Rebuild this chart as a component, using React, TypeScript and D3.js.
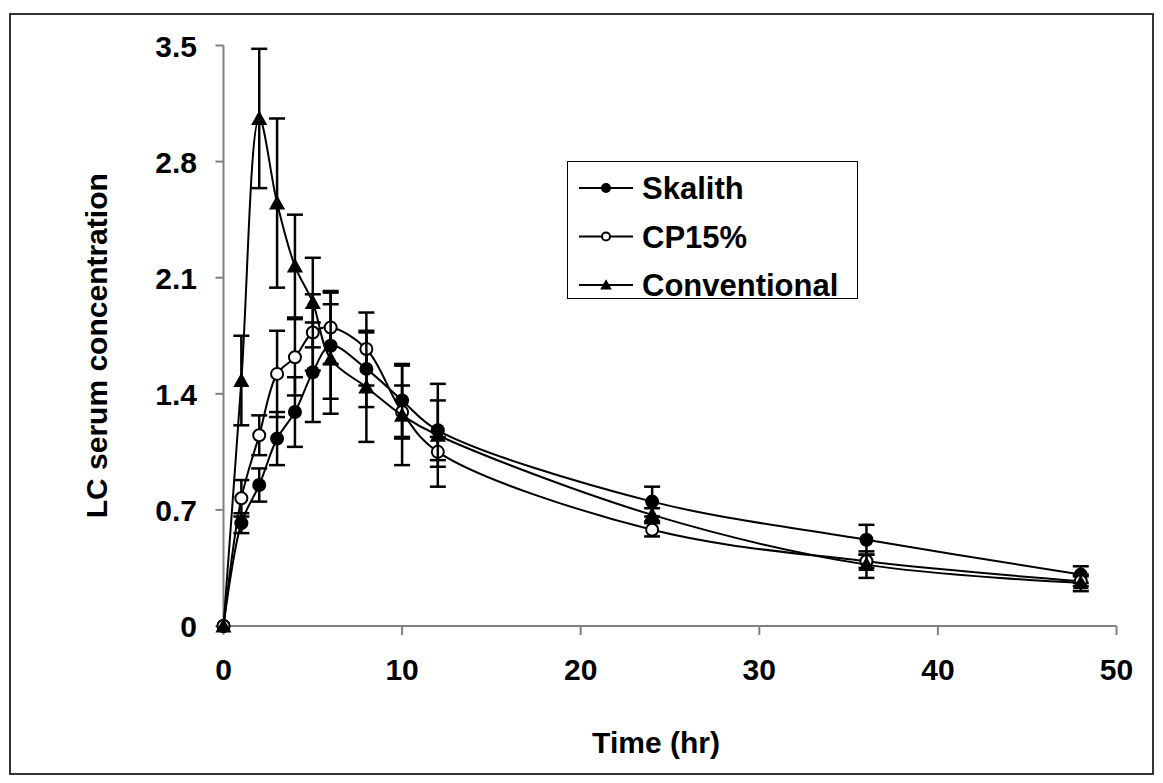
import React from 'react';
import * as d3 from 'd3';

const times = [0, 1, 2, 3, 4, 5, 6, 8, 10, 12, 24, 36, 48];
const skalith = [0, 0.62, 0.85, 1.13, 1.29, 1.53, 1.69, 1.55, 1.36, 1.18, 0.75, 0.52, 0.31];
const skalithErr = [0, 0.06, 0.1, 0.16, 0.21, 0.3, 0.32, 0.23, 0.22, 0.18, 0.09, 0.09, 0.05];
const cp15 = [0, 0.77, 1.15, 1.52, 1.62, 1.77, 1.8, 1.67, 1.29, 1.05, 0.58, 0.39, 0.27];
const cp15Err = [0, 0.11, 0.12, 0.26, 0.23, 0.23, 0.22, 0.22, 0.16, 0.09, 0.04, 0.04, 0.03];
const conventional = [0, 1.48, 3.06, 2.55, 2.17, 1.95, 1.61, 1.44, 1.27, 1.15, 0.67, 0.37, 0.26];
const conventionalErr = [0, 0.27, 0.42, 0.51, 0.31, 0.27, 0.33, 0.33, 0.3, 0.31, 0.04, 0.08, 0.05];

const xTicks = [0, 10, 20, 30, 40, 50];
const yTicks = [0, 0.7, 1.4, 2.1, 2.8, 3.5];
const seriesNames = ['Skalith', 'CP15%', 'Conventional'];

const width = 1163;
const height = 783;
const font = 'Arial, "Liberation Sans", sans-serif';
const axisColor = '#808080';

const x = d3.scaleLinear().domain([0, 50]).range([223.5, 1116.5]);
const y = d3.scaleLinear().domain([0, 3.5]).range([626, 45.5]);

const series = [
  { name: seriesNames[0], values: skalith, err: skalithErr, marker: 'filled' },
  { name: seriesNames[1], values: cp15, err: cp15Err, marker: 'open' },
  { name: seriesNames[2], values: conventional, err: conventionalErr, marker: 'triangle' },
];

const line = d3.line<number>()
  .x((d, i) => x(times[i]))
  .y((d) => y(d))
  .curve(d3.curveCatmullRom.alpha(0.5));

function Marker({ type, cx, cy, size }: { type: string; cx: number; cy: number; size: number }) {
  if (type === 'triangle') {
    const s = size * 1.15;
    const path = `M${cx},${cy - s} L${cx + s},${cy + s * 0.8} L${cx - s},${cy + s * 0.8} Z`;
    return <path d={path} fill="#000" />;
  }
  if (type === 'open') {
    return <circle cx={cx} cy={cy} r={size - 1} fill="#fff" stroke="#000" strokeWidth={2} />;
  }
  return <circle cx={cx} cy={cy} r={size} fill="#000" />;
}

export default function App() {
  const cap = 8;
  return (
    <svg width={width} height={height} style={{ position: 'absolute', left: 0, top: 0, background: '#fff' }}>
      <rect x={10} y={14} width={1143} height={760} fill="#fff" stroke="#333" strokeWidth={2} />

      {/* axes */}
      <line x1={x(0)} x2={x(50)} y1={y(0)} y2={y(0)} stroke={axisColor} strokeWidth={2} />
      <line x1={x(0)} x2={x(0)} y1={y(0)} y2={y(3.5)} stroke={axisColor} strokeWidth={2} />
      {xTicks.map((t) => (
        <g key={'xt' + t}>
          <line x1={x(t)} x2={x(t)} y1={y(0)} y2={y(0) + 9} stroke={axisColor} strokeWidth={2} />
          <text x={x(t)} y={y(0) + 54} textAnchor="middle" fontFamily={font} fontWeight="bold" fontSize={30} fill="#000">
            {t}
          </text>
        </g>
      ))}
      {yTicks.map((t) => (
        <g key={'yt' + t}>
          <line x1={x(0) - 8} x2={x(0)} y1={y(t)} y2={y(t)} stroke={axisColor} strokeWidth={2} />
          <text x={197} y={y(t) + 11} textAnchor="end" fontFamily={font} fontWeight="bold" fontSize={30} fill="#000">
            {t}
          </text>
        </g>
      ))}
      <text x={656} y={753} textAnchor="middle" fontFamily={font} fontWeight="bold" fontSize={30} fill="#000">
        Time (hr)
      </text>
      <text
        transform={`translate(107,${(y(0) + y(3.5)) / 2 + 10}) rotate(-90)`}
        textAnchor="middle"
        fontFamily={font}
        fontWeight="bold"
        fontSize={30}
        fill="#000"
      >
        LC serum concentration
      </text>

      {/* series */}
      {series.map((s) => (
        <g key={s.name}>
          {s.values.map((v, i) =>
            s.err[i] > 0 ? (
              <g key={i} stroke="#000" strokeWidth={2.5}>
                <line x1={x(times[i])} x2={x(times[i])} y1={y(v - s.err[i])} y2={y(v + s.err[i])} />
                <line x1={x(times[i]) - cap} x2={x(times[i]) + cap} y1={y(v + s.err[i])} y2={y(v + s.err[i])} />
                <line x1={x(times[i]) - cap} x2={x(times[i]) + cap} y1={y(v - s.err[i])} y2={y(v - s.err[i])} />
              </g>
            ) : null
          )}
          <path d={line(s.values) || ''} fill="none" stroke="#000" strokeWidth={2} />
          {s.values.map((v, i) => (
            <Marker key={i} type={s.marker} cx={x(times[i])} cy={y(v)} size={7} />
          ))}
        </g>
      ))}

      {/* legend */}
      <rect x={567.5} y={161.5} width={290} height={137} fill="#fff" stroke="#000" strokeWidth={1} />
      {series.map((s, i) => {
        const ly = 188 + i * 48.5;
        return (
          <g key={'lg' + s.name}>
            <line x1={579} x2={633} y1={ly} y2={ly} stroke="#000" strokeWidth={2} />
            <Marker type={s.marker} cx={606} cy={ly} size={5} />
            <text x={642} y={ly + 11} fontFamily={font} fontWeight="bold" fontSize={31} fill="#000">
              {s.name}
            </text>
          </g>
        );
      })}
    </svg>
  );
}
